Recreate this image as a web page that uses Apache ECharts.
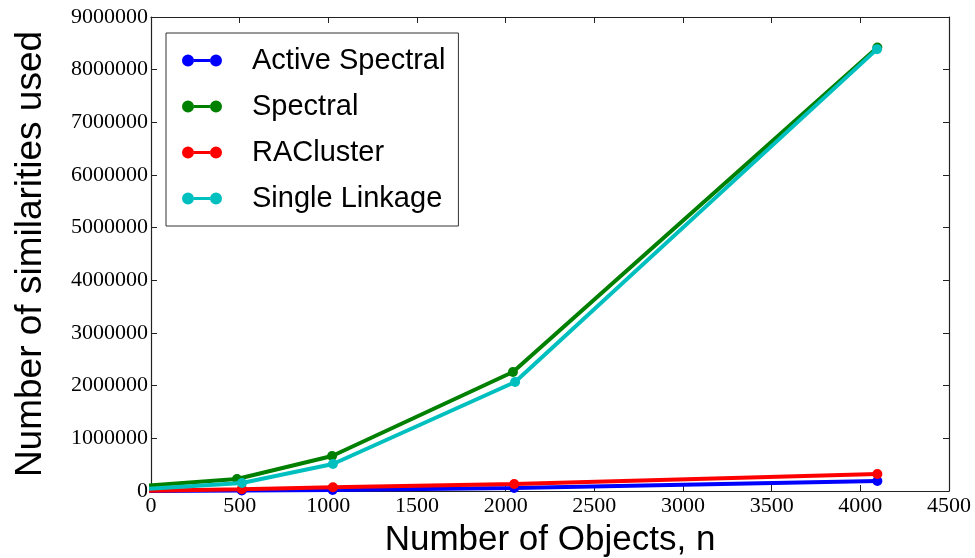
<!DOCTYPE html>
<html>
<head>
<meta charset="utf-8">
<script src="https://cdn.jsdelivr.net/npm/echarts@6/dist/echarts.min.js"></script>
<style>
  html, body { margin: 0; padding: 0; background: #fff; }
  #chart { width: 975px; height: 558px; }
</style>
</head>
<body>
<div id="chart"></div>
<script>
// Number of objects n (x) for each method
const nActive   = [-40, 512, 1024, 2048, 4096];
const nSpectral = [-40, 485, 1021, 2041, 4096];
const nRA       = [-40, 512, 1026, 2048, 4096];
const nSingle   = [-40, 513, 1026, 2053, 4094];

// Similarities used by each method
const simActive   = [2000, 8000, 20000, 57000, 190000];
const simSpectral = [95000, 228000, 665000, 2260000, 8420000];
const simRA       = [5000, 35000, 70000, 133000, 323000];
const simSingle   = [38000, 152000, 513000, 2070000, 8390000];

const seriesNames = ['Active Spectral', 'Spectral', 'RACluster', 'Single Linkage'];
const seriesColors = ['#0000ff', '#008000', '#ff0000', '#00bfbf'];

const xTicks = [0, 500, 1000, 1500, 2000, 2500, 3000, 3500, 4000, 4500];
const yTicks = [0, 1000000, 2000000, 3000000, 4000000, 5000000, 6000000, 7000000, 8000000, 9000000];

const zip = (xs, ys) => xs.map((x, i) => [x, ys[i]]);
const xsAll = [nActive, nSpectral, nRA, nSingle];
const ysAll = [simActive, simSpectral, simRA, simSingle];

// Legend icon: a short line with a dot at each end, plus blank room before the label
const legendIcon = 'path://M0,6a6,6 0 1,0 12,0a6,6 0 1,0 -12,0Z M28,6a6,6 0 1,0 12,0a6,6 0 1,0 -12,0Z M11.8,4.4H28.2V7.6H11.8Z M64.8,6H65V6.05H64.8Z';

const tickFont = { fontFamily: 'Liberation Serif', fontSize: 22, color: '#000' };
const axisLine = { show: true, onZero: false, lineStyle: { color: '#222', width: 1.2 } };
const axisTick = { show: true, inside: true, length: 6, lineStyle: { color: '#222', width: 1 } };

const chart = echarts.init(document.getElementById('chart'), null, { renderer: 'canvas' });

chart.setOption({
  backgroundColor: '#fff',
  animation: false,
  grid: { left: 151, right: 26, top: 17, bottom: 67, containLabel: false, outerBoundsMode: 'none' },
  legend: {
    left: 166,
    top: 33,
    orient: 'vertical',
    data: seriesNames,
    icon: legendIcon,
    itemWidth: 65,
    itemHeight: 12,
    itemGap: 15,
    padding: [12, 13, 12, 16],
    borderColor: '#333',
    borderWidth: 1,
    backgroundColor: '#fff',
    textStyle: { fontFamily: 'Liberation Sans', fontSize: 29, color: '#000', lineHeight: 31 }
  },
  xAxis: [{
    type: 'value',
    min: 0, max: 4500, interval: 500,
    name: 'Number of Objects, n',
    nameLocation: 'middle',
    nameGap: 32,
    nameTextStyle: { fontFamily: 'Liberation Sans', fontSize: 35, color: '#000' },
    axisLine, axisTick,
    splitLine: { show: false },
    axisLabel: Object.assign({ margin: 4, formatter: v => xTicks.includes(v) ? String(v) : '' }, tickFont)
  }, {
    type: 'value', position: 'top',
    min: 0, max: 4500, interval: 500,
    axisLine, axisTick,
    splitLine: { show: false },
    axisLabel: { show: false }
  }],
  yAxis: [{
    type: 'value',
    min: 0, max: 9000000, interval: 1000000,
    name: 'Number of similarities used',
    nameLocation: 'middle',
    nameGap: 102,
    nameTextStyle: { fontFamily: 'Liberation Sans', fontSize: 37, color: '#000' },
    axisLine, axisTick,
    splitLine: { show: false },
    axisLabel: Object.assign({ margin: 3, formatter: v => yTicks.includes(v) ? String(v) : '' }, tickFont)
  }, {
    type: 'value', position: 'right',
    min: 0, max: 9000000, interval: 1000000,
    axisLine, axisTick,
    splitLine: { show: false },
    axisLabel: { show: false }
  }],
  series: seriesNames.map((name, i) => ({
    name,
    type: 'line',
    xAxisIndex: 0,
    yAxisIndex: 0,
    data: zip(xsAll[i], ysAll[i]),
    clip: true,
    symbol: 'circle',
    symbolSize: 10,
    showAllSymbol: true,
    color: seriesColors[i],
    lineStyle: { width: 4, color: seriesColors[i] },
    itemStyle: { color: seriesColors[i] },
    z: 2 + i
  }))
});
</script>
</body>
</html>
